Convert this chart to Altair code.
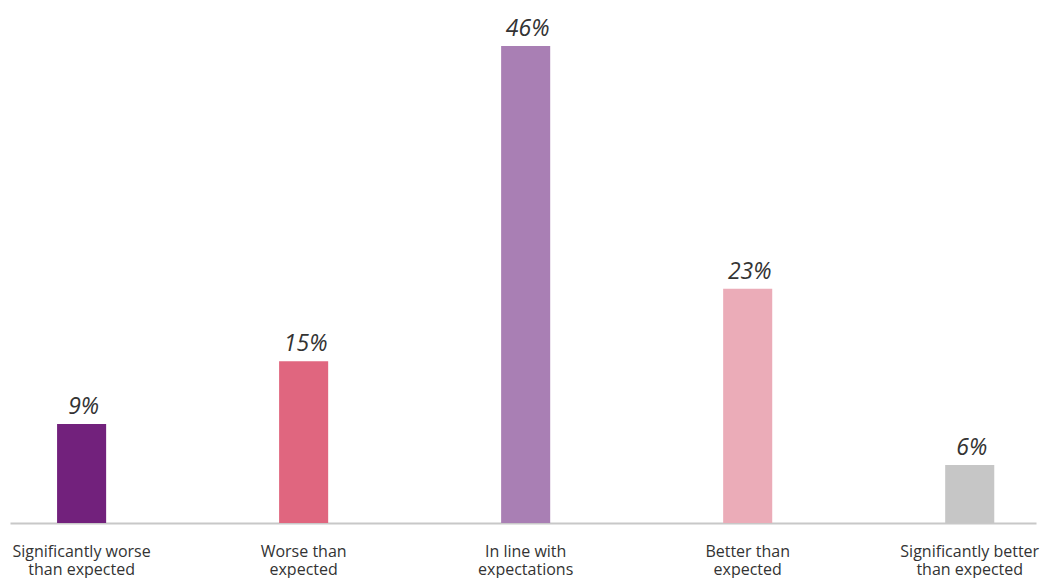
import altair as alt
import pandas as pd

categories = ["Significantly worse|than expected", "Worse than|expected",
              "In line with|expectations", "Better than|expected",
              "Significantly better|than expected"]
# bar heights (labels show the rounded figures)
values = [9.55, 15.6, 46, 22.6, 5.6]
labels = ["9%", "15%", "46%", "23%", "6%"]
colors = ["#72217c", "#e0667f", "#a97fb4", "#ebacb8", "#c6c6c6"]

df = pd.DataFrame({"cat": categories, "val": values, "lab": labels, "col": colors})

xscale = alt.Scale(paddingInner=0.779, paddingOuter=0.2, align=0.53)
x = alt.X("cat:N", sort=categories, scale=xscale,
          axis=alt.Axis(title=None, labelAngle=0, ticks=False, grid=False, domainColor="#c8c8c8",
                        domainWidth=2, labelFont="Open Sans", labelFontSize=16,
                        labelColor="#333333", labelPadding=20, labelBaseline="top",
                        labelLineHeight=18,
                        labelExpr="split(datum.label, '|')"))
y = alt.Y("val:Q", scale=alt.Scale(domain=[0, 50.44]), axis=None)

bars = alt.Chart(df).mark_bar().encode(
    x=x, y=y, color=alt.Color("col:N", scale=None))

text = alt.Chart(df).mark_text(dy=-10, dx=2, baseline="alphabetic", fontSize=23, fontStyle="italic",
                               font="Open Sans", color="#333333").encode(
    x=x, y=y, text="lab:N")

chart = (bars + text).properties(
    width=1026, height=523,
    background="white",
    autosize=alt.AutoSizeParams(type="none"),
    padding={"left": 10, "top": 0, "right": 24, "bottom": 55},
).configure_view(strokeWidth=0, stroke=None)

chart.save("out.html", embed_options={"renderer": "svg", "actions": False})
